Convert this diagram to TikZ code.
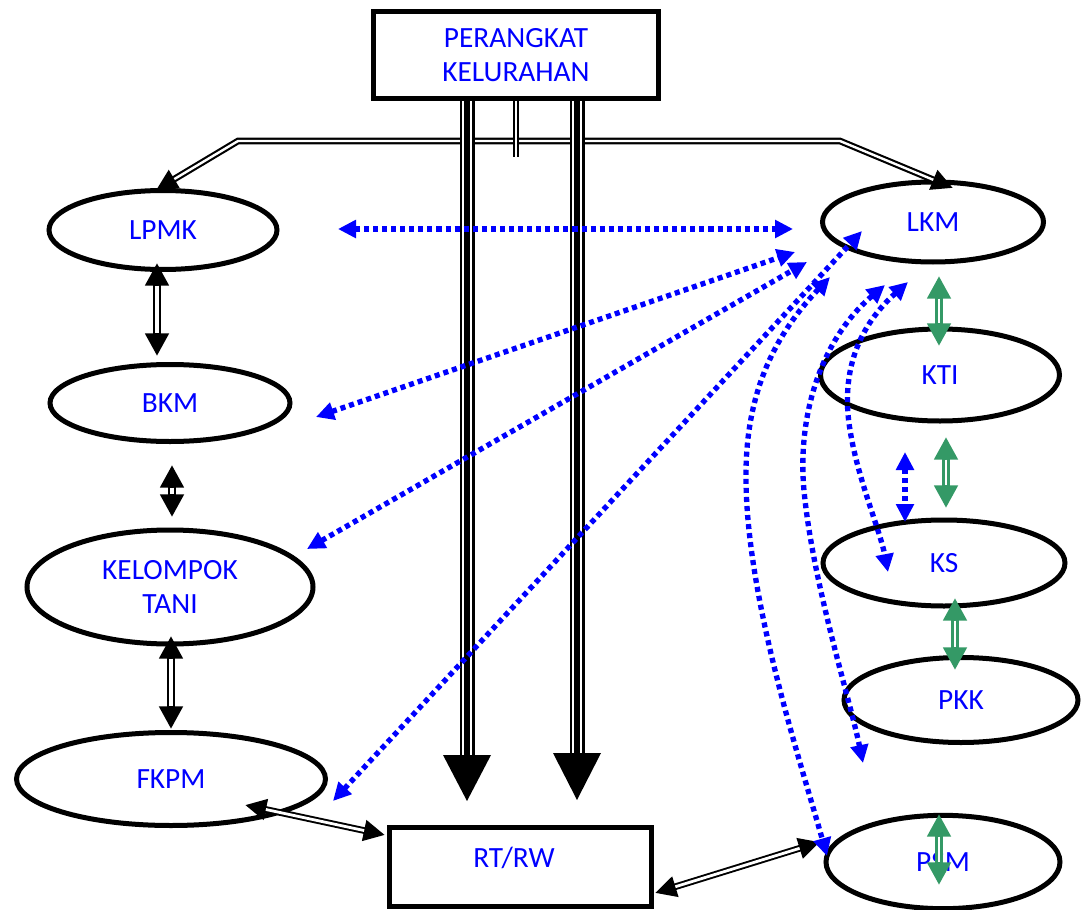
\documentclass[tikz,border=0pt]{standalone}
\usepackage{fontspec}
\setmainfont{Carlito}
\usetikzlibrary{arrows.meta,shapes.geometric}
\definecolor{tblue}{RGB}{0,0,255}
\definecolor{tgreen}{RGB}{52,153,102}
\newcommand{\lbl}{\fontsize{22}{25.5}\selectfont}
% #1 colour, #2 tip length, #3 tip width, #4 outer width, #5 gap width, #6 from, #7 to
\newcommand{\twoway}[7]{%
  \draw[#1, line width=#4, {Triangle[length=#2,width=#3]}-{Triangle[length=#2,width=#3]}] (#6) -- (#7);
  \draw[white, line width=#5, shorten <=#2, shorten >=#2] (#6) -- (#7);}
\begin{document}
\begin{tikzpicture}[x=0.75pt,y=-0.75pt,
  ell/.style={ellipse, draw=black, line width=3.75pt, inner sep=0pt, text=tblue, align=center, font=\lbl},
  box/.style={rectangle, draw=black, line width=3.75pt, inner sep=0pt, text=tblue, align=center, font=\lbl},
  bdot/.style={draw=tblue, line width=4pt, line cap=butt, dash pattern=on 3.8pt off 3pt,
    {Triangle[length=13.5pt,width=13pt]}-{Triangle[length=13.5pt,width=13pt]}}]
\useasboundingbox (0,0) rectangle (1083,910);

% nodes
\node[box, minimum width=213.75pt, minimum height=65.25pt] (pk) at (516,55) {PERANGKAT\\KELURAHAN};
\node[ell, minimum width=171pt, minimum height=59.25pt] (lpmk) at (163,230) {LPMK};
\node[ell, minimum width=180pt, minimum height=57.75pt] (bkm) at (170,403) {BKM};
\node[ell, minimum width=214.5pt, minimum height=85.5pt] (kt) at (170,587) {KELOMPOK\\TANI};
\node[ell, minimum width=231.75pt, minimum height=69.75pt] (fkpm) at (171,779) {FKPM};
\node[box, minimum width=196.5pt, minimum height=59.25pt] (rtrw) at (520,867) {};
\node[text=tblue, font=\lbl] (rtrwt) at (514,858) {RT/RW};
\node[ell, minimum width=165.75pt, minimum height=60pt] (lkm) at (933,222) {LKM};
\node[ell, minimum width=179.25pt, minimum height=69pt] (kti) at (940,375) {KTI};
\node[ell, minimum width=181.5pt, minimum height=64.5pt] (ks) at (944,563) {KS};
\node[ell, minimum width=175.5pt, minimum height=63.75pt] (pkk) at (961,700) {PKK};
\node[ell, minimum width=175.5pt, minimum height=70pt] (psm) at (943,862) {PSM};

% top distribution connector
\coordinate (tl) at (156,190);
\coordinate (tc1) at (238,141);
\coordinate (tc2) at (840,141);
\coordinate (tr) at (953,188);
\draw[line width=5pt, line join=miter, {Triangle[length=16pt,width=15pt]}-{Triangle[length=16pt,width=15pt]}] (tl) -- (tc1) -- (tc2) -- (tr);
\draw[white, line width=1.8pt, line join=miter, shorten <=16pt, shorten >=16pt] (tl) -- (tc1) -- (tc2) -- (tr);
\coordinate (vs1) at (516,101);
\coordinate (vs2) at (516,157);
\draw[line width=5pt] (vs1) -- (vs2);
\draw[white, line width=1.8pt] (vs1) -- (vs2);

% triple arrows to RT/RW
\foreach \x/\b/\t in {467/755/801, 577/753/800} {
  \draw[line width=11.25pt] (\x,101) -- (\x,\b);
  \draw[white, line width=7pt] (\x,101) -- (\x,\b);
  \draw[line width=4.2pt] (\x,101) -- (\x,\b);
  \fill (\x-24,\b) -- (\x+24,\b) -- (\x,\t) -- cycle;
}

% black double arrows
\twoway{black}{17pt}{17pt}{6pt}{2.4pt}{157,263}{157,356}
\twoway{black}{17pt}{17pt}{6pt}{2.4pt}{172,465}{172,517}
\twoway{black}{17pt}{17pt}{6pt}{2.4pt}{171,636}{171,729}
\twoway{black}{16pt}{15pt}{5pt}{2.1pt}{245,805}{385,835}
\twoway{black}{16pt}{15pt}{5pt}{2.1pt}{655,893}{820,842}

% green double arrows
\twoway{tgreen}{17pt}{17pt}{5.5pt}{2.2pt}{939,276}{939,346}
\twoway{tgreen}{17pt}{17pt}{5.5pt}{2.2pt}{946,437}{946,508}
\twoway{tgreen}{17pt}{17pt}{5.5pt}{2.2pt}{955,598}{955,670}
\twoway{tgreen}{17pt}{17pt}{5.5pt}{2.2pt}{939,814}{939,885}

% blue dotted arrows
\draw[bdot] (338,229) -- (793,229);
\draw[bdot] (316,417) -- (795,252);
\draw[bdot] (307,549) -- (807,262);
\draw[bdot] (333,801) -- (862,231);
\draw[bdot] (830,277) .. controls (770,340) and (745,400) .. (746,480)
  .. controls (747,600) and (800,760) .. (827,856);
\draw[bdot] (885,285) .. controls (820,340) and (795,420) .. (805,500)
  .. controls (815,590) and (850,700) .. (863,763);
\draw[bdot] (908,282) .. controls (860,325) and (840,370) .. (850,430)
  .. controls (858,480) and (880,530) .. (888,572);
\draw[bdot] (905,452) -- (905,522);
\end{tikzpicture}
\end{document}
